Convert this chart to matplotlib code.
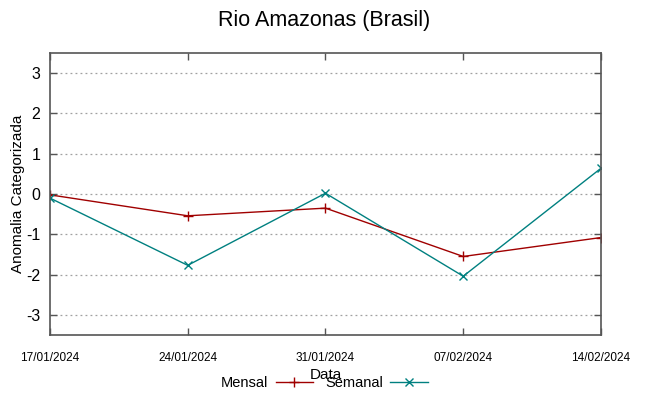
import matplotlib
matplotlib.use("Agg")
import matplotlib.pyplot as plt
import matplotlib.dates as mdates
import pandas as pd

plt.rcParams['font.family'] = ['Liberation Sans', 'DejaVu Sans']
plt.rcParams['axes.unicode_minus'] = False

datas = ['17/01/2024', '24/01/2024', '31/01/2024', '07/02/2024', '14/02/2024']
mensal = [-0.02, -0.54, -0.35, -1.55, -1.08]
semanal = [-0.10, -1.77, 0.02, -2.04, 0.64]

dts = pd.to_datetime(datas, format='%d/%m/%Y')

fig = plt.figure(figsize=(6.49, 3.96), dpi=100)
ax = fig.add_axes([0.077, 0.154, 0.849, 0.712])

ax.plot(dts, mensal, color='#a00000', lw=1, marker='+', ms=7, mew=1, label='Mensal')
ax.plot(dts, semanal, color='#008080', lw=1, marker='x', ms=6, mew=1, label='Semanal')

ax.set_xlim(dts[0], dts[-1])
ax.set_ylim(-3.5, 3.5)
ax.set_yticks([-3, -2, -1, 0, 1, 2, 3])
ax.set_xticks(dts)
ax.xaxis.set_major_formatter(mdates.DateFormatter('%d/%m/%Y'))
ax.tick_params(axis='x', labelsize=8.5, pad=12)
ax.tick_params(axis='y', labelsize=11.5, pad=7)
ax.tick_params(direction='in', length=5, top=True, right=True, color='#555555', width=1)
ax.grid(axis='y', color='#a0a0a0', linestyle=(0, (1.5, 2.5)), lw=0.9)
for s in ax.spines.values():
    s.set_color('#555555')
    s.set_linewidth(1.2)

ax.set_ylabel('Anomalia Categorizada', fontsize=11)
ax.yaxis.set_label_coords(-0.045, 0.5)
ax.set_xlabel('Data', fontsize=11, labelpad=3)
fig.suptitle('Rio Amazonas (Brasil)', fontsize=15.5, y=0.975)

ax.legend(loc='center', bbox_to_anchor=(0.5, 0.033), bbox_transform=fig.transFigure,
          ncol=2, frameon=False, markerfirst=False, fontsize=10.5,
          handlelength=2.6, columnspacing=0.8, handletextpad=0.5)

fig.savefig('out.png', dpi=100)
